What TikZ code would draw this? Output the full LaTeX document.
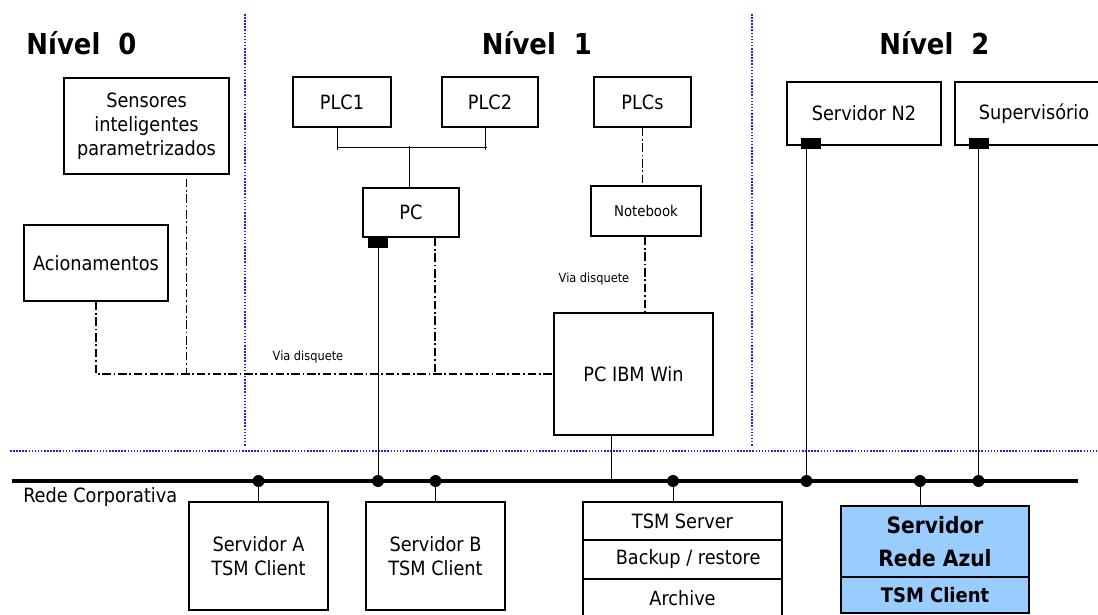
\documentclass[tikz,border=0pt]{standalone}
\usepackage{fontspec}
\setmainfont{DejaVu Sans Condensed}
\usetikzlibrary{calc}
\definecolor{AzulClaro}{RGB}{153,204,255}
\definecolor{AzulDiv}{RGB}{30,30,240}
\begin{document}
\begin{tikzpicture}[x=0.025cm,y=-0.025cm,
  caixa/.style={draw,line width=0.9pt,inner sep=0pt,align=center,
                font=\fontsize{14}{17}\selectfont},
  porta/.style={fill=black,inner sep=0pt,minimum width=0.5cm,minimum height=0.27cm},
  ponto/.style={circle,fill=black,inner sep=0pt,minimum size=8.5pt},
  traco/.style={line width=0.8pt,dash pattern=on 6pt off 2pt on 1.2pt off 2pt},
  fio/.style={line width=0.7pt},
  rede/.style={line width=3.5pt},
  divisa/.style={AzulDiv,line width=1.6pt,dash pattern=on 1.1pt off 1.1pt},
  titulo/.style={font=\bfseries\fontsize{20.5}{24}\selectfont},
  nota/.style={font=\fontsize{9}{11}\selectfont,inner sep=0pt},
]
\useasboundingbox (0,0) rectangle (1098,615);
\clip (0,0) rectangle (1098,615);
% divisas entre os niveis
\draw[divisa] (245,14) -- (245,446);
\draw[divisa] (752,14) -- (752,446);
\draw[divisa] (10,451) -- (1098,451);
\node[titulo] (n0) at (81.5,43) {Nível\ \ 0};
\node[titulo] (n1) at (537,43) {Nível\ \ 1};
\node[titulo] (n2) at (934.5,43) {Nível\ \ 2};
% nivel 0
\node[caixa,minimum width=4.125cm,minimum height=2.4cm] (sens) at (146.5,126)
  {Sensores\\inteligentes\\parametrizados};
\node[caixa,minimum width=3.6cm,minimum height=1.9cm] (acion) at (96,263) {Acionamentos};
% nivel 1
\node[caixa,minimum width=2.45cm,minimum height=1.25cm] (plc1) at (342,102) {PLC1};
\node[caixa,minimum width=2.4cm,minimum height=1.25cm] (plc2) at (490,102) {PLC2};
\node[caixa,minimum width=2.425cm,minimum height=1.25cm] (plcs) at (642.5,102) {PLCs};
\node[caixa,minimum width=2.4cm,minimum height=1.225cm] (pc) at (411,212.5) {PC};
\node[caixa,minimum width=2.75cm,minimum height=1.25cm,
      font=\fontsize{10.5}{12}\selectfont] (note) at (646,211) {Notebook};
\node[caixa,minimum width=3.975cm,minimum height=3.05cm] (pcibm) at (633.5,374) {PC IBM Win};
\node[porta] (pcport) at (378,242.5) {};
% nivel 2
\node[caixa,minimum width=3.85cm,minimum height=1.575cm] (srvn2) at (864,113.5) {Servidor N2};
\node[caixa,minimum width=3.95cm,minimum height=1.575cm] (superv) at (1034,113.5) {Supervisório};
\node[porta] (n2port) at (810.5,143.5) {};
\node[porta] (support) at (978.5,143.5) {};
% rede corporativa
\coordinate (busL) at (12,481);
\coordinate (busR) at (1078,481);
\draw[rede] (busL) -- (busR);
\node[anchor=west,inner sep=0pt,font=\fontsize{14}{17}\selectfont] (redelbl) at (23,497) {Rede Corporativa};
\node[caixa,minimum width=3.475cm,minimum height=2.7cm] (srvA) at (258.5,556) {Servidor A\\TSM Client};
\node[caixa,minimum width=3.475cm,minimum height=2.7cm] (srvB) at (435.5,556) {Servidor B\\TSM Client};
\node[caixa,minimum width=4.975cm,minimum height=0.95cm] (tsm1) at (682.5,521) {TSM Server};
\node[caixa,minimum width=4.975cm,minimum height=0.975cm] (tsm2) at (682.5,559.5) {\ \ Backup / restore};
\node[caixa,minimum width=4.975cm,minimum height=0.975cm] (tsm3) at (682.5,598.5) {Archive};
\node[caixa,fill=AzulClaro,minimum width=4.7cm,minimum height=1.775cm,
      font=\bfseries\fontsize{16}{24}\selectfont] (azul1) at (935,541.5) {Servidor\\Rede Azul};
\node[caixa,fill=AzulClaro,minimum width=4.7cm,minimum height=0.9cm,
      font=\bfseries\fontsize{14.2}{17}\selectfont] (azul2) at (935,595) {TSM Client};
% ligacoes entre PLCs e PC
\draw[fio] ($(plc1.south)+(-5,0)$) -- ++(0,22);
\draw[fio] ($(plc2.south)+(-5,0)$) -- ++(0,22);
\draw[fio] ($(plc1.south)+(-5,20)$) -- ($(plc2.south)+(-3,20)$);
\draw[fio] ($(pc.north)+(-2,0)$) -- ++(0,-41);
% ligacoes via disquete
\coordinate (sensdrop) at ($(sens.south)+(40,4)$);
\coordinate (pcdrop) at ($(pc.south)+(24,0)$);
\coordinate (notedrop) at ($(note.south)+(-1,0)$);
\draw[traco] (acion.south) |- (pcibm.west);
\draw[traco] (sensdrop) -- (sensdrop |- pcibm.west);
\draw[traco] (pcdrop) -- (pcdrop |- pcibm.west);
\draw[traco] (plcs.south) -- (plcs.south |- note.north);
\draw[traco] (notedrop) -- (notedrop |- pcibm.north);
\node[nota] (via1) at (308,357) {Via disquete};
\node[nota] (via2) at (594,279) {Via disquete};
% ligacoes com a rede
\coordinate (tsmtop) at ($(tsm1.north)+(-9.5,0)$);
\coordinate (azultop) at ($(azul1.north)+(-15,0)$);
\coordinate (ibmbot) at ($(pcibm.south)+(-22.5,0)$);
\draw[fio] (ibmbot) -- (ibmbot |- busL);
\draw[fio] (pcport) -- (pcport |- busL);
\draw[fio] ($(n2port)+(-4,0)$) -- ($(n2port |- busL)+(-4,0)$);
\draw[fio] (support) -- (support |- busL);
\draw[fio] (srvA.north) -- (srvA.north |- busL);
\draw[fio] (srvB.north) -- (srvB.north |- busL);
\draw[fio] (tsmtop) -- (tsmtop |- busL);
\draw[fio] (azultop) -- (azultop |- busL);
\node[ponto] (dA) at (srvA.north |- busL) {};
\node[ponto] (dpc) at (pcport |- busL) {};
\node[ponto] (dB) at (srvB.north |- busL) {};
\node[ponto] (dtsm) at (tsmtop |- busL) {};
\node[ponto] (dn2) at ($(n2port |- busL)+(-4,0)$) {};
\node[ponto] (dazul) at (azultop |- busL) {};
\node[ponto] (dsup) at (support |- busL) {};
\end{tikzpicture}
\end{document}
